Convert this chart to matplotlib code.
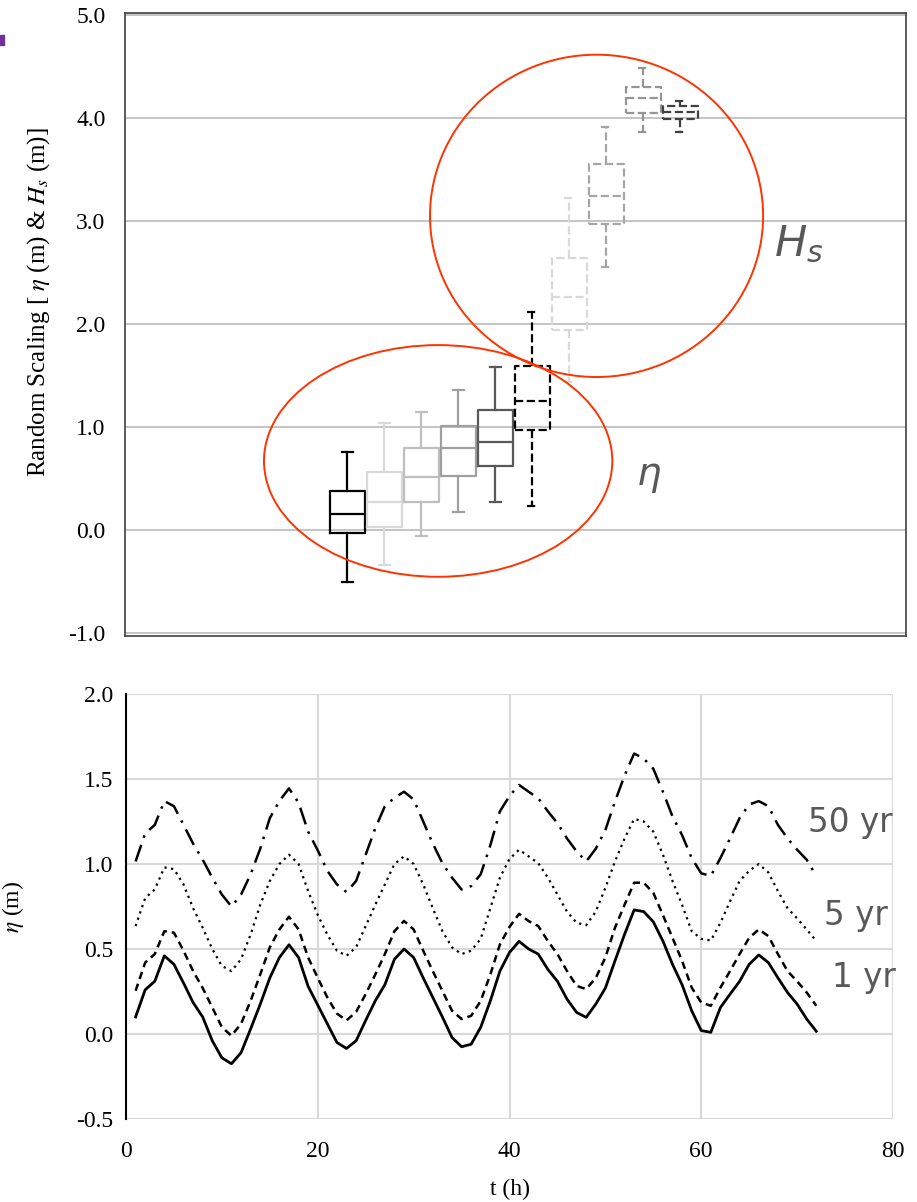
import numpy as np
import matplotlib
matplotlib.use("Agg")
import matplotlib.pyplot as plt
from matplotlib.patches import Ellipse, Rectangle

# ---------------- data ----------------
# top panel: box statistics (10 boxes: 6 for eta, 4 for Hs)
box_pos = [1, 2, 3, 4, 5, 6, 7, 8, 9, 10]
box_whislo = [-0.51, -0.34, -0.06, 0.175, 0.27, 0.23, 1.44, 2.55, 3.86, 3.86]
box_q1 = [-0.03, 0.03, 0.27, 0.52, 0.62, 0.97, 1.94, 2.97, 4.05, 3.99]
box_med = [0.155, 0.27, 0.51, 0.80, 0.855, 1.25, 2.26, 3.24, 4.19, 4.06]
box_q3 = [0.38, 0.56, 0.80, 1.01, 1.165, 1.59, 2.64, 3.55, 4.30, 4.12]
box_whishi = [0.76, 1.04, 1.15, 1.36, 1.58, 2.12, 3.22, 3.91, 4.49, 4.17]
box_colors = ['#000000', '#d9d9d9', '#bfbfbf', '#a0a0a0', '#595959',
              '#000000', '#d9d9d9', '#a6a6a6', '#959595', '#404040']
box_styles = ['-', '-', '-', '-', '-', '--', '--', '--', '--', '--']
top_yticks = [-1.0, 0.0, 1.0, 2.0, 3.0, 4.0, 5.0]

# bottom panel: time series (hourly)
t_hours = list(range(1, 73))
eta_base = [0.10, 0.26, 0.31, 0.46, 0.41, 0.30, 0.185, 0.10, -0.04, -0.14,
            -0.175, -0.11, 0.03, 0.175, 0.33, 0.45, 0.525, 0.45, 0.28, 0.17,
            0.06, -0.05, -0.085, -0.04, 0.08, 0.195, 0.29, 0.44, 0.50, 0.45,
            0.33, 0.215, 0.10, -0.02, -0.075, -0.06, 0.04, 0.195, 0.37, 0.48,
            0.545, 0.50, 0.47, 0.38, 0.31, 0.205, 0.127, 0.098, 0.176, 0.27,
            0.43, 0.586, 0.73, 0.72, 0.66, 0.547, 0.41, 0.29, 0.137, 0.02,
            0.01, 0.156, 0.234, 0.31, 0.41, 0.465, 0.42, 0.33, 0.244, 0.176,
            0.088, 0.016]
eta_1yr = [0.254, 0.42, 0.47, 0.605, 0.596, 0.49, 0.37, 0.27, 0.156, 0.04,
           -0.01, 0.06, 0.195, 0.35, 0.51, 0.615, 0.69, 0.615, 0.45, 0.33,
           0.215, 0.12, 0.08, 0.13, 0.235, 0.35, 0.47, 0.605, 0.665, 0.615,
           0.49, 0.37, 0.254, 0.137, 0.088, 0.107, 0.195, 0.35, 0.527, 0.63,
           0.707, 0.664, 0.635, 0.547, 0.47, 0.37, 0.283, 0.264, 0.33, 0.45,
           0.625, 0.76, 0.89, 0.89, 0.83, 0.70, 0.566, 0.43, 0.273, 0.185,
           0.166, 0.273, 0.37, 0.47, 0.566, 0.615, 0.576, 0.47, 0.37, 0.31,
           0.244, 0.166]
eta_5yr = [0.635, 0.80, 0.85, 0.98, 0.97, 0.88, 0.74, 0.625, 0.50, 0.40,
           0.37, 0.44, 0.585, 0.76, 0.90, 1.00, 1.055, 1.00, 0.84, 0.70,
           0.585, 0.49, 0.46, 0.51, 0.635, 0.76, 0.88, 1.00, 1.045, 1.00,
           0.88, 0.74, 0.605, 0.51, 0.47, 0.49, 0.56, 0.74, 0.92, 1.03,
           1.084, 1.045, 1.005, 0.92, 0.82, 0.72, 0.654, 0.64, 0.72, 0.86,
           1.015, 1.15, 1.265, 1.25, 1.19, 1.055, 0.90, 0.76, 0.605, 0.56,
           0.55, 0.654, 0.78, 0.90, 0.96, 1.00, 0.95, 0.84, 0.74, 0.68,
           0.615, 0.547]
eta_50yr = [1.015, 1.18, 1.23, 1.37, 1.34, 1.23, 1.12, 1.025, 0.92, 0.82,
            0.75, 0.82, 0.94, 1.09, 1.27, 1.37, 1.445, 1.36, 1.19, 1.08,
            0.96, 0.88, 0.835, 0.90, 1.055, 1.21, 1.34, 1.39, 1.425, 1.38,
            1.25, 1.12, 1.005, 0.92, 0.85, 0.87, 0.94, 1.11, 1.31, 1.40,
            1.465, 1.425, 1.387, 1.31, 1.24, 1.15, 1.074, 1.015, 1.09, 1.20,
            1.367, 1.52, 1.65, 1.62, 1.56, 1.425, 1.28, 1.17, 1.035, 0.945,
            0.93, 1.035, 1.15, 1.27, 1.35, 1.37, 1.34, 1.23, 1.15, 1.084,
            1.025, 0.93]
bot_xticks = [0, 20, 40, 60, 80]
bot_yticks = [-0.5, 0.0, 0.5, 1.0, 1.5, 2.0]
series_labels = ['50 yr', '5 yr', '1 yr']

# ---------------- figure ----------------
serif = ['Liberation Serif', 'DejaVu Serif']
fig = plt.figure(figsize=(9.17, 12.02), dpi=100)

# purple mark at the top-left corner
fig.patches.append(Rectangle((0, 1 - 45 / 1202), 4 / 917, 10 / 1202,
                             transform=fig.transFigure, color='#7030a0',
                             zorder=5))

# ---- top panel ----
ax1 = fig.add_axes([125 / 917, 566 / 1202, 781 / 917, 623 / 1202])
ax1.set_xlim(-5.0, 16.1)
ax1.set_ylim(-1.03, 5.02)
ax1.set_yticks(top_yticks)
ax1.set_yticklabels([f"{v:.1f}" for v in top_yticks], fontfamily=serif,
                    fontsize=17)
ax1.set_xticks([])
ax1.tick_params(axis='y', length=0, pad=14)
for v in top_yticks:
    ax1.axhline(v, color='#bfbfbf', lw=1.3, zorder=0)
for s in ax1.spines.values():
    s.set_color('#404040')
    s.set_linewidth(1.2)

for i in range(len(box_pos)):
    stats = [dict(whislo=box_whislo[i], q1=box_q1[i], med=box_med[i],
                  q3=box_q3[i], whishi=box_whishi[i], fliers=[])]
    c = box_colors[i]
    ls = box_styles[i]
    ax1.bxp(stats, positions=[box_pos[i]], widths=0.95, showfliers=False,
            manage_ticks=False,
            boxprops=dict(color=c, lw=1.6, ls=ls),
            medianprops=dict(color=c, lw=1.6, ls=ls),
            whiskerprops=dict(color=c, lw=1.6, ls=ls),
            capprops=dict(color=c, lw=1.6, ls=ls),
            capwidths=0.3, zorder=3)

red = '#ff3300'
ax1.add_patch(Ellipse((3.46, 0.67), 9.41, 2.25, fill=False, ec=red, lw=1.4,
                      zorder=4))
ax1.add_patch(Ellipse((7.74, 3.05), 9.0, 3.13, fill=False, ec=red, lw=1.4,
                      zorder=4))
ax1.text(13.2, 2.78, r"$H_s$", fontsize=31, color='#595959',
         ha='center', va='center', math_fontfamily='dejavusans')
ax1.text(9.15, 0.52, r"$\eta$", fontsize=28, color='#595959',
         ha='center', va='center', math_fontfamily='dejavusans')
ax1.set_ylabel(r"Random Scaling [ $\eta$ (m) & $H_s$ (m)]",
               fontfamily=serif, fontsize=18, math_fontfamily='stix',
               labelpad=12)
ax1.yaxis.label.set_y(0.536)

# ---- bottom panel ----
ax2 = fig.add_axes([126 / 917, 83 / 1202, 767 / 917, 425 / 1202])
ax2.set_xlim(0, 80)
ax2.set_ylim(-0.5, 2.0)
ax2.set_xticks(bot_xticks)
ax2.set_yticks(bot_yticks)
ax2.set_xticklabels([str(v) for v in bot_xticks], fontfamily=serif,
                    fontsize=17)
ax2.set_yticklabels([f"{v:.1f}" for v in bot_yticks], fontfamily=serif,
                    fontsize=17)
ax2.tick_params(length=0)
ax2.tick_params(axis='x', pad=16)
ax2.tick_params(axis='y', pad=9)
ax2.grid(True, color='#d9d9d9', lw=1.5, zorder=0)
ax2.set_axisbelow(True)
for k in ['top', 'right', 'bottom']:
    ax2.spines[k].set_visible(False)
ax2.spines['left'].set_color('black')
ax2.spines['left'].set_linewidth(1.5)

ax2.plot(t_hours, eta_base, color='black', lw=2.0, ls='-', zorder=3)
ax2.plot(t_hours, eta_1yr, color='black', lw=1.8, ls=(0, (3, 2)), zorder=3)
ax2.plot(t_hours, eta_5yr, color='black', lw=1.6, ls=(0, (1, 2)), zorder=3)
ax2.plot(t_hours, eta_50yr, color='black', lw=1.8,
         ls=(0, (7, 3, 1, 3)), zorder=3)

lab_kw = dict(fontsize=23.5, color='#595959', ha='right', va='center',
              fontfamily='DejaVu Sans', clip_on=False)
ax2.text(80.0, 1.245, series_labels[0], **lab_kw)
ax2.text(79.5, 0.70, series_labels[1], **lab_kw)
ax2.text(80.3, 0.335, series_labels[2], **lab_kw)

ax2.set_ylabel(r"$\eta$ (m)", fontfamily=serif, fontsize=17,
               math_fontfamily='stix', labelpad=36)
ax2.set_xlabel("t (h)", fontfamily=serif, fontsize=17, labelpad=12)

fig.savefig("out.png", dpi=100)
